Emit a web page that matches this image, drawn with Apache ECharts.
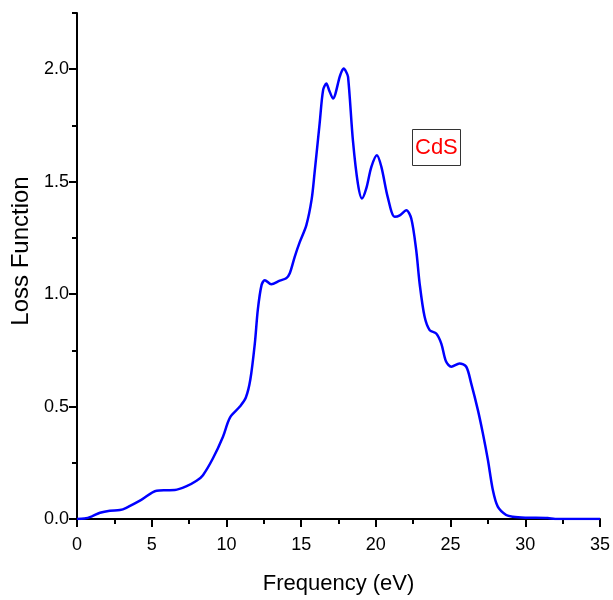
<!DOCTYPE html>
<html>
<head>
<meta charset="utf-8">
<script src="https://cdn.jsdelivr.net/npm/echarts@6/dist/echarts.min.js"></script>
<style>
  html, body { margin: 0; padding: 0; background: #fff; }
  #main { width: 613px; height: 600px; }
</style>
</head>
<body>
<div id="main"></div>
<script>
var freq = [0, 0.5, 1.0, 1.54, 2.2, 2.87, 3.3, 4.3, 5.33, 6.0, 6.55, 7.3, 8.0, 8.43, 9.1, 9.77,
    10.23, 10.9, 11.3, 11.6, 11.9, 12.1, 12.35, 12.57, 13.0, 13.57, 14.0, 14.24, 14.57, 14.9,
    15.35, 15.7, 15.9, 16.24, 16.47, 16.69, 16.87, 17.13, 17.58, 17.71, 17.85, 18.0, 18.14, 18.47, 18.8, 19.07,
    19.36, 19.7, 20.07, 20.37, 20.8, 21.26, 21.6, 22.04, 22.37, 22.7, 22.93, 23.26, 23.6,
    24.04, 24.38, 24.7, 25.05, 25.6, 26.05, 26.38, 26.83, 27.16, 27.5, 27.83, 28.16, 28.72,
    29.17, 30, 31.5, 32, 35]
var loss = [0, 0.002, 0.012, 0.028, 0.037, 0.04, 0.05, 0.085, 0.126, 0.128, 0.129, 0.145, 0.17, 0.195, 0.27, 0.366,
    0.45, 0.5, 0.54, 0.62, 0.78, 0.93, 1.04, 1.062, 1.044, 1.06, 1.07, 1.093, 1.166, 1.23,
    1.307, 1.42, 1.54, 1.76, 1.907, 1.936, 1.907, 1.87, 1.966, 1.99, 2.003, 1.99, 1.966, 1.68, 1.49, 1.425,
    1.47, 1.566, 1.618, 1.566, 1.43, 1.344, 1.35, 1.373, 1.336, 1.196, 1.047, 0.9, 0.84,
    0.825, 0.78, 0.7, 0.677, 0.692, 0.677, 0.603, 0.484, 0.381, 0.262, 0.129, 0.055, 0.018,
    0.01, 0.006, 0.004, 0, 0]
var yMajorTicks = [0, 0.5, 1.0, 1.5, 2.0]
var yMinorTicks = [0.25, 0.75, 1.25, 1.75, 2.25]
var label = 'CdS'

var font = "'Liberation Sans', Arial, sans-serif"
var points = freq.map(function (f, i) { return [f, loss[i]] })

var myChart = echarts.init(document.getElementById('main'))
var option = {
    backgroundColor: '#ffffff',
    animation: false,
    title: {
        text: label,
        left: 412,
        top: 129,
        padding: [8, 3, 7, 3],
        borderWidth: 1,
        borderColor: '#333333',
        textStyle: { color: '#ff0000', fontSize: 22, fontWeight: 'normal', fontFamily: font }
    },
    grid: { left: 77, right: 12, top: 13, bottom: 81 },
    xAxis: {
        type: 'value',
        min: 0,
        max: 35,
        interval: 5,
        name: 'Frequency (eV)',
        nameLocation: 'middle',
        nameGap: 54,
        nameTextStyle: { color: '#000', fontSize: 22, fontFamily: font },
        axisLine: { onZero: false, lineStyle: { color: '#000', width: 2 } },
        axisTick: { length: 8, lineStyle: { color: '#000', width: 2 } },
        minorTick: { show: true, splitNumber: 2, length: 5, lineStyle: { color: '#000', width: 2 } },
        axisLabel: { color: '#000', fontSize: 18, fontFamily: font, margin: 17 },
        splitLine: { show: false }
    },
    yAxis: [
        {
            type: 'value',
            min: 0,
            max: 2.25,
            name: 'Loss Function',
            nameLocation: 'middle',
            nameGap: 44,
            nameTextStyle: { color: '#000', fontSize: 24, fontFamily: font, padding: [0, 0, 0, 30] },
            axisLine: { show: true, lineStyle: { color: '#000', width: 2 } },
            axisTick: { show: true, length: 8, customValues: yMajorTicks, lineStyle: { color: '#000', width: 2 } },
            axisLabel: {
                color: '#000', fontSize: 18, fontFamily: font, margin: 8,
                customValues: yMajorTicks,
                formatter: function (v) { return v.toFixed(1) }
            },
            splitLine: { show: false }
        },
        {
            type: 'value',
            min: 0,
            max: 2.25,
            position: 'left',
            axisLine: { show: false },
            axisTick: { show: true, length: 5, customValues: yMinorTicks, lineStyle: { color: '#000', width: 2 } },
            axisLabel: { show: false },
            splitLine: { show: false }
        }
    ],
    series: [
        {
            type: 'line',
            data: points,
            yAxisIndex: 0,
            smooth: 0.3,
            symbol: 'none',
            lineStyle: { color: '#0000ff', width: 2.5 }
        }
    ]
}
myChart.setOption(option)
</script>
</body>
</html>
